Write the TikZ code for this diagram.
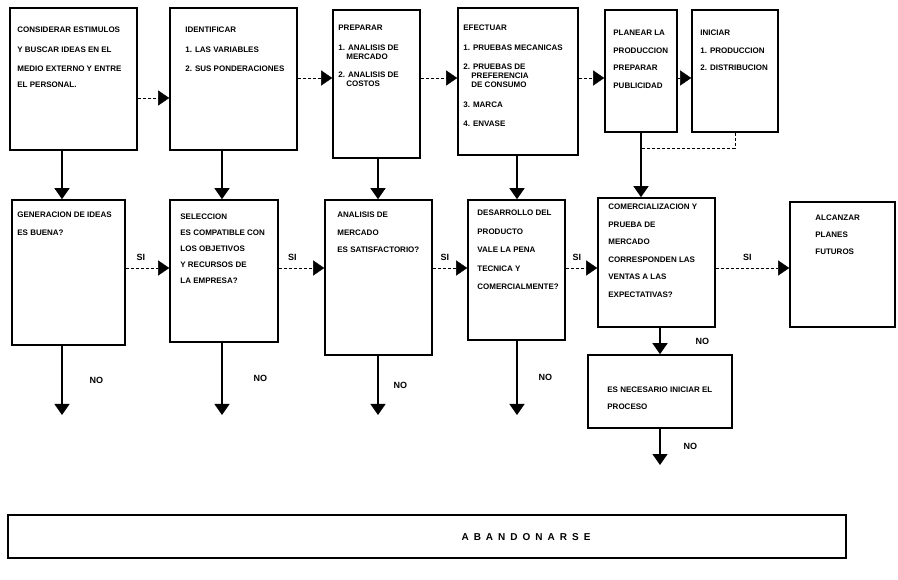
\documentclass[tikz,border=0pt]{standalone}
\usepackage{fontspec}
\setsansfont{Liberation Sans}
\usetikzlibrary{arrows.meta}

\begin{document}
\begin{tikzpicture}[
        x=1pt, y=-1pt,
        thick,
        font=\sffamily\bfseries\fontsize{8}{9}\selectfont
    ]
    \tikzset{
        caja/.style = {rectangle, draw=black, line width=1.6pt, inner sep=0pt},
        txt/.style = {anchor=north west, align=left, inner sep=0pt},
        etq/.style = {font=\sffamily\bfseries\small, inner sep=1pt},
        flecha/.style = {-{Triangle[length=11pt,width=15pt]}, line width=1.3pt},
        flechap/.style = {-{Triangle[length=11pt,width=15pt]}, thin, densely dashed},
        lineap/.style = {-, thin, densely dashed},
    }
    \useasboundingbox (0,0) rectangle (898,580);
    %
    \coordinate (ty1) at (0,98);
    \coordinate (ty) at (0,78);
    \coordinate (sy) at (0,268);
    \coordinate (xa) at (62,0);
    \coordinate (xb) at (222,0);
    \coordinate (xc) at (378,0);
    \coordinate (xd) at (517,0);
    \coordinate (xe) at (641,0);
    \coordinate (xg) at (660,0);
    %
    \node[caja, minimum width=127pt, minimum height=142pt] at (73.5,79) (b1) {};
    \node[caja, minimum width=127pt, minimum height=142pt] at (233.5,79) (b2) {};
    \node[caja, minimum width=87pt, minimum height=148pt] at (376.5,84) (b3) {};
    \node[caja, minimum width=120pt, minimum height=147pt] at (518,81.5) (b4) {};
    \node[caja, minimum width=72pt, minimum height=122pt] at (641,71) (b5) {};
    \node[caja, minimum width=86pt, minimum height=122pt] at (735,71) (b6) {};
    %
    \node[txt] at (17,27) (t1) {CONSIDERAR ESTIMULOS\\[10.5pt]
        Y BUSCAR IDEAS EN EL\\[10.5pt] MEDIO EXTERNO Y ENTRE\\[6.5pt] EL PERSONAL.};
    \node[txt] at (185,27) (t2) {IDENTIFICAR\\[10.5pt] 1. LAS VARIABLES\\[10.5pt]
        2. SUS PONDERACIONES};
    \node[txt] at (338,25) (t3) {PREPARAR\\[10.5pt] 1. ANALISIS DE\\ \hspace*{8pt}MERCADO\\[9.5pt]
        2. ANALISIS DE\\ \hspace*{8pt}COSTOS};
    \node[txt] at (463,25) (t4) {EFECTUAR\\[10.5pt] 1. PRUEBAS MECANICAS\\[10.5pt]
        2. PRUEBAS DE\\ \hspace*{8pt}PREFERENCIA\\ \hspace*{8pt}DE CONSUMO\\[10.5pt]
        3. MARCA\\[10.5pt] 4. ENVASE};
    \node[txt] at (613,30) (t5) {PLANEAR LA\\[8.5pt] PRODUCCION\\[8.5pt] PREPARAR\\[8.5pt] PUBLICIDAD};
    \node[txt] at (700,30) (t6) {INICIAR\\[8.5pt] 1. PRODUCCION\\[8.5pt] 2. DISTRIBUCION};
    %
    \node[caja, minimum width=113pt, minimum height=145pt] at (68.5,272.5) (ra) {};
    \node[caja, minimum width=108pt, minimum height=142pt] at (224,271) (rb) {};
    \node[caja, minimum width=107pt, minimum height=155pt] at (378.5,277.5) (rc) {};
    \node[caja, minimum width=97pt, minimum height=140pt] at (516.5,270) (rd) {};
    \node[caja, minimum width=117pt, minimum height=129pt] at (656.5,262.5) (re) {};
    \node[caja, minimum width=105pt, minimum height=125pt] at (842.5,264.5) (rf) {};
    \node[caja, minimum width=144pt, minimum height=73pt] at (660,391.5) (rg) {};
    \node[caja, line width=1.2pt, minimum width=838pt, minimum height=43pt] at (427,536.5) (ab) {};
    %
    \node[txt] at (17,212) (ta) {GENERACION DE IDEAS\\[8.5pt] ES BUENA?};
    \node[txt] at (180,213.5) (tb) {SELECCION\\[7pt] ES COMPATIBLE CON\\[7pt]
        LOS OBJETIVOS\\[7pt] Y RECURSOS DE\\[7pt] LA EMPRESA?};
    \node[txt] at (337,212) (tc) {ANALISIS DE\\[8.5pt] MERCADO\\[8.5pt] ES SATISFACTORIO?};
    \node[txt] at (477,210) (td) {DESARROLLO DEL\\[9.5pt] PRODUCTO\\[9.5pt]
        VALE LA PENA\\[9.5pt] TECNICA Y\\[9.5pt] COMERCIALMENTE?};
    \node[txt] at (608,204) (te) {COMERCIALIZACION Y\\[8.5pt] PRUEBA DE\\[8.5pt] MERCADO\\[8.5pt]
        CORRESPONDEN LAS\\[8.5pt] VENTAS A LAS\\[8.5pt] EXPECTATIVAS?};
    \node[txt] at (815,215) (tf) {ALCANZAR\\[8pt] PLANES\\[8pt] FUTUROS};
    \node[txt] at (607,387) (tg) {ES NECESARIO INICIAR EL\\[8pt] PROCESO};
    \node[font=\sffamily\bfseries\fontsize{10}{11}\selectfont] at (526,537) (tab)
        {A\hspace{5pt}B\hspace{5pt}A\hspace{5pt}N\hspace{5pt}D\hspace{5pt}O\hspace{5pt}N\hspace{5pt}A\hspace{5pt}R\hspace{5pt}S\hspace{5pt}E};
    %
    \draw[flechap] (b1.east |- ty1) -- (b2.west |- ty1);
    \draw[flechap] (b2.east |- ty) -- (b3.west |- ty);
    \draw[flechap] (b3.east |- ty) -- (b4.west |- ty);
    \draw[flechap] (b4.east |- ty) -- (b5.west |- ty);
    \draw[flechap] (b5.east |- ty) -- (b6.west |- ty);
    %
    \draw[flecha] (b1.south -| xa) -- (ra.north -| xa);
    \draw[flecha] (b2.south -| xb) -- (rb.north -| xb);
    \draw[flecha] (b3.south -| xc) -- (rc.north -| xc);
    \draw[flecha] (b4.south -| xd) -- (rd.north -| xd);
    \draw[flecha] (b5.south -| xe) -- (re.north -| xe);
    \coordinate (m) at (641,148);
    \draw[lineap] (b6.south) |- (m);
    %
    \draw[flechap] (ra.east |- sy) -- node[etq, pos=0.35, above=6pt] (si1) {SI} (rb.west |- sy);
    \draw[flechap] (rb.east |- sy) -- node[etq, pos=0.3, above=6pt] (si2) {SI} (rc.west |- sy);
    \draw[flechap] (rc.east |- sy) -- node[etq, pos=0.35, above=6pt] (si3) {SI} (rd.west |- sy);
    \draw[flechap] (rd.east |- sy) -- node[etq, pos=0.35, above=6pt] (si4) {SI} (re.west |- sy);
    \draw[flechap] (re.east |- sy) -- node[etq, pos=0.43, above=6pt] (si5) {SI} (rf.west |- sy);
    %
    \coordinate (fa) at (62,415);
    \coordinate (fb) at (222,415);
    \coordinate (fc) at (378,415);
    \coordinate (fd) at (517,415);
    \coordinate (fg) at (660,465);
    \draw[flecha] (ra.south -| xa) -- node[etq, right=26pt] (no1) {NO} (fa);
    \draw[flecha] (rb.south -| xb) -- node[etq, right=30pt] (no2) {NO} (fb);
    \draw[flecha] (rc.south -| xc) -- node[etq, right=14pt] (no3) {NO} (fc);
    \draw[flecha] (rd.south -| xd) -- node[etq, right=20pt] (no4) {NO} (fd);
    \draw[flecha] (re.south -| xg) -- node[etq, right=34pt] (no5) {NO} (rg.north);
    \draw[flecha] (rg.south) -- node[etq, right=22pt] (no6) {NO} (fg);
\end{tikzpicture}
\end{document}
